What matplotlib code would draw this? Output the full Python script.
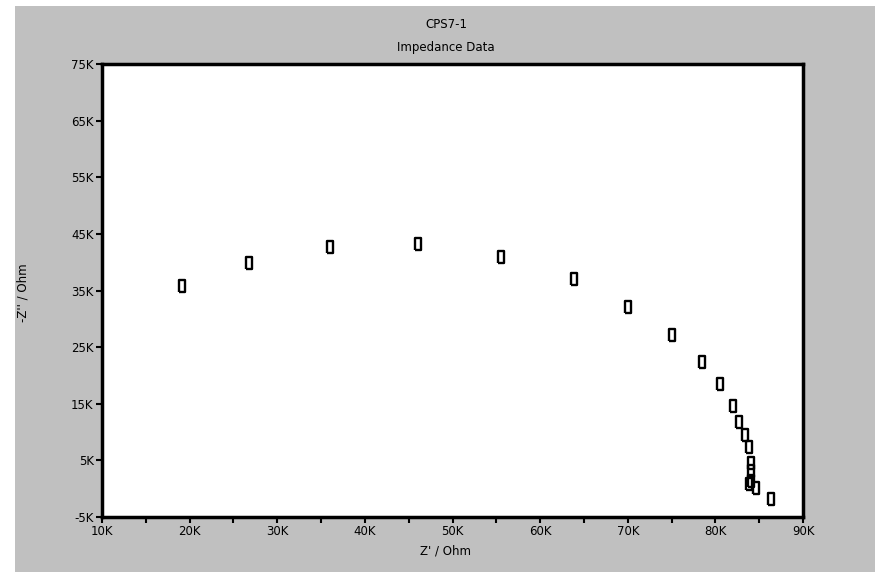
import matplotlib.pyplot as plt
from matplotlib.patches import Rectangle
from matplotlib.ticker import FuncFormatter, MultipleLocator

# Impedance data (Ohm)
z_real = [19.1, 26.8, 36.0, 46.1, 55.5, 63.9, 70.0, 75.1, 78.5, 80.5,
          82.0, 82.7, 83.4, 83.8, 84.1, 84.1, 84.1, 83.8, 84.6, 86.4]
z_imag = [35.8, 39.8, 42.7, 43.2, 40.9, 37.0, 32.0, 27.1, 22.3, 18.4,
          14.6, 11.7, 9.4, 7.4, 4.6, 3.2, 1.4, 0.9, 0.2, -1.8]
z_real = [v * 1000 for v in z_real]
z_imag = [v * 1000 for v in z_imag]

title_lines = ["CPS7-1", "Impedance Data"]
xlabel = "Z' / Ohm"
ylabel = "-Z'' / Ohm"

W, H = 875, 572
FS = 8.5
fig = plt.figure(figsize=(W / 100, H / 100), dpi=100, facecolor="white")
fig.patches.append(Rectangle((15 / W, 0), 1 - 15 / W, 1 - 6 / H,
                             transform=fig.transFigure, facecolor="#c0c0c0",
                             edgecolor="none", zorder=-10))

ax = fig.add_axes([102 / W, 1 - 517 / H, (803 - 102) / W, (517 - 64) / H])
ax.set_facecolor("white")

rect = [(-0.55, -1), (0.55, -1), (0.55, 1), (-0.55, 1), (-0.55, -1)]
ax.plot(z_real, z_imag, linestyle="none", marker=rect, markersize=8,
        markerfacecolor="none", markeredgecolor="black", markeredgewidth=1.7)

ax.set_xlim(10000, 90000)
ax.set_ylim(-5000, 75000)
ax.xaxis.set_major_locator(MultipleLocator(10000))
ax.xaxis.set_minor_locator(MultipleLocator(5000))
ax.yaxis.set_major_locator(plt.FixedLocator(range(-5000, 75001, 10000)))
fmt = FuncFormatter(lambda v, p: "%dK" % round(v / 1000))
ax.xaxis.set_major_formatter(fmt)
ax.yaxis.set_major_formatter(fmt)
ax.tick_params(which="both", direction="out", width=1.5, labelsize=FS,
               colors="black")
ax.tick_params(which="major", length=4, pad=2)
ax.tick_params(which="minor", length=4)
for s in ax.spines.values():
    s.set_linewidth(2.5)
    s.set_color("black")

fig.text(446 / W, 1 - 25 / H, title_lines[0], ha="center", va="center", fontsize=FS)
fig.text(446 / W, 1 - 48 / H, title_lines[1], ha="center", va="center", fontsize=FS)
fig.text(446 / W, 1 - 551 / H, xlabel, ha="center", va="center", fontsize=FS)
fig.text(23 / W, 1 - 293 / H, ylabel, ha="center", va="center", fontsize=FS,
         rotation=90)

fig.savefig("out.png", dpi=100, facecolor=fig.get_facecolor())
